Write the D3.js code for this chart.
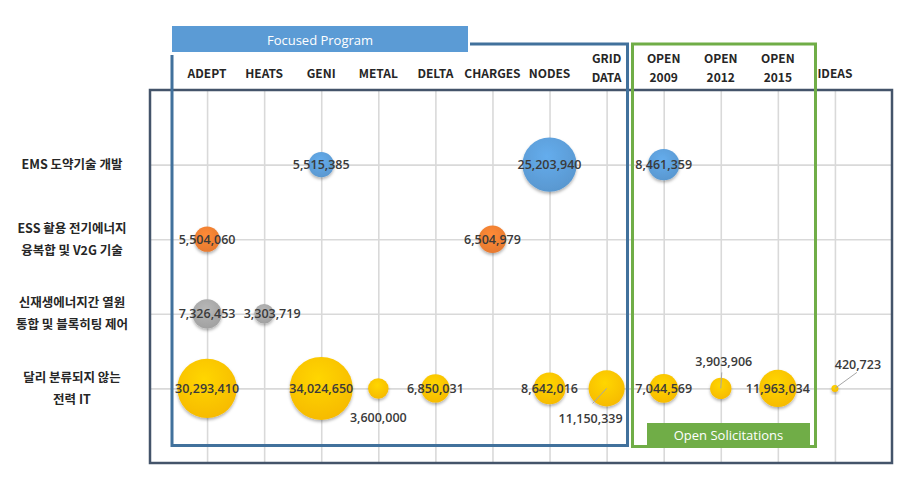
<!DOCTYPE html>
<html><head><meta charset="utf-8">
<script src="https://cdn.jsdelivr.net/npm/d3@7/dist/d3.min.js"></script>
<style>body{margin:0;background:#fff}</style>
</head><body>
<svg id="c" width="913" height="485"></svg>
<script>
// ---- data ----
const programs = ["ADEPT","HEATS","GENI","METAL","DELTA","CHARGES","NODES","GRID\nDATA","OPEN\n2009","OPEN\n2012","OPEN\n2015","IDEAS"];
const areas = ["EMS 도약기술 개발","ESS 활용 전기에너지\n융복합 및 V2G 기술","신재생에너지간 열원\n통합 및 블록히팅 제어","달리 분류되지 않는\n전력 IT"];
const emsValues    = [{p:"GENI",v:5515385},{p:"NODES",v:25203940},{p:"OPEN\n2009",v:8461359}];
const essValues    = [{p:"ADEPT",v:5504060},{p:"CHARGES",v:6504979}];
const renewValues  = [{p:"ADEPT",v:7326453},{p:"HEATS",v:3303719}];
const otherValues  = [{p:"ADEPT",v:30293410},{p:"GENI",v:34024650},{p:"METAL",v:3600000},{p:"DELTA",v:6850031},{p:"NODES",v:8642016},{p:"GRID\nDATA",v:11150339},{p:"OPEN\n2009",v:7044569},{p:"OPEN\n2012",v:3903906},{p:"OPEN\n2015",v:11963034},{p:"IDEAS",v:420723}];
const seriesList = [emsValues, essValues, renewValues, otherValues];
const groupTitles = ["Focused Program","Open Solicitations"];

// ---- styles / layout ----
const colors = ["#5b9bd5","#ed7d31","#a5a5a5","#ffc000"];
// label placement overrides (dx, dy, leader end offsets)
const labelOffsets = {
  "2|HEATS":{dx:8,dy:0},
  "3|METAL":{dx:0,dy:29},
  "3|GRID\nDATA":{dx:-16,dy:30,lx:-14,ly:15},
  "3|OPEN\n2012":{dx:3,dy:-27,lx:1,ly:-16},
  "3|IDEAS":{dx:23,dy:-24,lx:22,ly:-16}
};

const svg = d3.select("#c");
const x = d3.scaleLinear().domain([0, programs.length+1]).range([150, 892]);
const y = d3.scaleLinear().domain([0, areas.length+1]).range([90, 463]);
const maxV = d3.max(seriesList.flat(), d=>d.v);
const r = d3.scaleSqrt().domain([0, maxV]).range([0, 31.5]);
const col = p => programs.indexOf(p)+1;

const defs = svg.append("defs");
colors.forEach((c,i)=>{
  const g = defs.append("radialGradient").attr("id","g"+i).attr("cx","45%").attr("cy","35%").attr("r","70%");
  g.append("stop").attr("offset","0%").attr("stop-color", d3.color(c).brighter(0.3));
  g.append("stop").attr("offset","100%").attr("stop-color", d3.color(c).darker(0.1));
});
const f = defs.append("filter").attr("id","sh").attr("x","-30%").attr("y","-30%").attr("width","160%").attr("height","170%");
f.append("feDropShadow").attr("dx",0).attr("dy",2).attr("stdDeviation",1.6).attr("flood-color","#000").attr("flood-opacity",0.3);

// gridlines via axes
const gx = svg.append("g").attr("transform","translate(0,90)")
  .call(d3.axisBottom(x).tickValues(d3.range(1, programs.length+1)).tickSize(373).tickFormat(""));
const gy = svg.append("g").attr("transform","translate(150,0)")
  .call(d3.axisRight(y).tickValues(d3.range(1, areas.length+1)).tickSize(742).tickFormat(""));
[gx,gy].forEach(g=>{g.select(".domain").remove(); g.selectAll("line").attr("stroke","#d9d9d9").attr("stroke-width",1.6);});

// outer plot box
svg.append("rect").attr("x",150).attr("y",90).attr("width",742).attr("height",373)
  .attr("fill","none").attr("stroke","#44546a").attr("stroke-width",2.5);

// Focused program box
svg.append("path").attr("d","M172,55 L172,445.5 L627.5,445.5 L627.5,44 L470,44")
  .attr("fill","none").attr("stroke","#41719c").attr("stroke-width",3);
svg.append("rect").attr("x",172).attr("y",26).attr("width",296).attr("height",26).attr("fill","#5b9bd5");
svg.append("text").attr("x",320).attr("y",44.5).attr("text-anchor","middle")
  .attr("font-family","'Open Sans',sans-serif").attr("font-size",13).attr("fill","#fff").text(groupTitles[0]);

// Open solicitations box
svg.append("rect").attr("x",632.5).attr("y",44).attr("width",183).attr("height",402.5)
  .attr("fill","none").attr("stroke","#70ad47").attr("stroke-width",3);
svg.append("rect").attr("x",647).attr("y",423).attr("width",163).attr("height",23).attr("fill","#70ad47");
svg.append("text").attr("x",728.5).attr("y",439.5).attr("text-anchor","middle")
  .attr("font-family","'Open Sans',sans-serif").attr("font-size",13).attr("fill","#fff").text(groupTitles[1]);

// column headers
const hdr = svg.append("g").attr("font-family","'Noto Sans CJK KR','Noto Sans',sans-serif")
  .attr("font-weight","bold").attr("font-size",12).attr("fill","#262626").attr("text-anchor","middle");
programs.forEach((p,i)=>{
  const lines = p.split("\n");
  const t = hdr.append("text").attr("x", x(i+1)).attr("y", lines.length>1 ? 63 : 78);
  lines.forEach((l,k)=>t.append("tspan").attr("x",x(i+1)).attr("dy",k?19:0).text(l));
});

// row labels
const rl = svg.append("g").attr("font-family","'Noto Sans CJK KR',sans-serif")
  .attr("font-weight","bold").attr("font-size",12.5).attr("fill","#262626").attr("text-anchor","middle");
areas.forEach((a,i)=>{
  const lines = a.split("\n");
  const y0 = y(i+1) + 4.5 - (lines.length-1)*11;
  const t = rl.append("text").attr("x",72).attr("y",y0);
  lines.forEach((l,k)=>t.append("tspan").attr("x",72).attr("dy",k?22:0).text(l));
});

// bubbles
const fmt = d3.format(",");
seriesList.forEach((s,i)=>{
  svg.append("g").selectAll("circle").data(s).join("circle")
    .attr("cx",d=>x(col(d.p))).attr("cy",y(i+1)).attr("r",d=>r(d.v))
    .attr("fill","url(#g"+i+")").attr("filter","url(#sh)");
});
// labels
const lg = svg.append("g").attr("font-family","'Open Sans',sans-serif").attr("font-size",12.5)
  .attr("font-weight",600).attr("fill","#3a3a3a").attr("text-anchor","middle");
seriesList.forEach((s,i)=>{
  s.forEach(d=>{
    const o = labelOffsets[i+"|"+d.p] || {dx:0,dy:0};
    const cx = x(col(d.p)), cy = y(i+1);
    if(o.lx!==undefined){
      lg.append("line").attr("x1",cx).attr("y1",cy).attr("x2",cx+o.lx).attr("y2",cy+o.ly)
        .attr("stroke","#a6a6a6").attr("stroke-width",1);
    }
    lg.append("text").attr("x",cx+o.dx).attr("y",cy+o.dy+4.5).text(fmt(d.v));
  });
});
</script>
</body></html>
